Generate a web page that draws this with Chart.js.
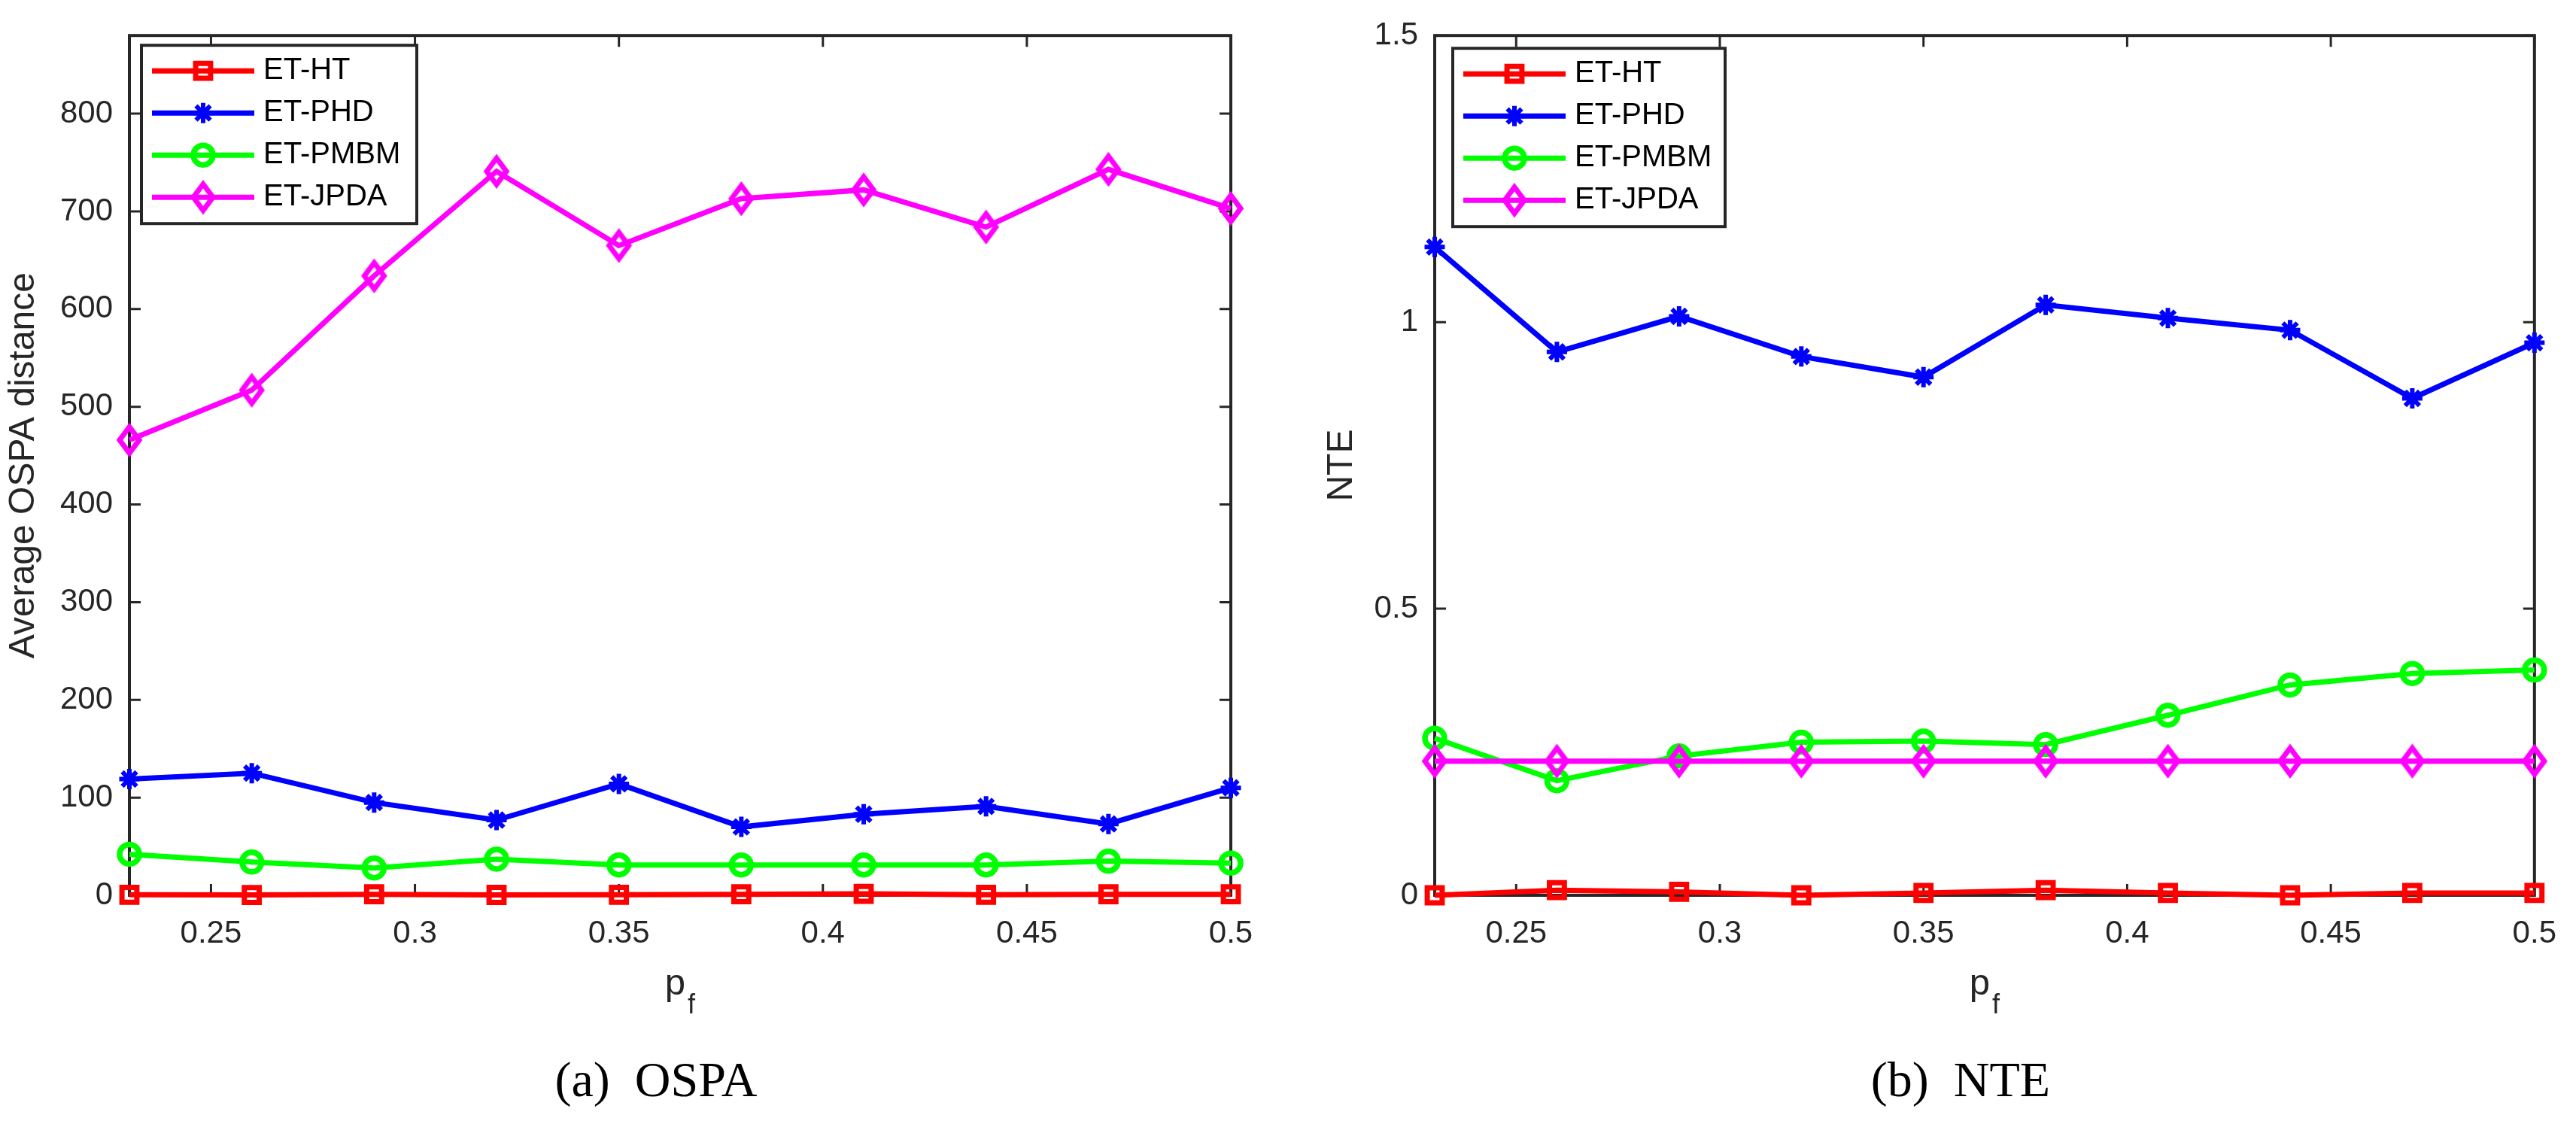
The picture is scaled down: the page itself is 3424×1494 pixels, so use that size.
<!DOCTYPE html>
<html>
<head>
<meta charset="utf-8">
<script src="https://cdn.jsdelivr.net/npm/chart.js@4.4.1/dist/chart.umd.min.js"></script>
<style>
html, body { margin: 0; padding: 0; background: #fff; }
#wrap { position: relative; width: 3424px; height: 1494px; }
.panel { position: absolute; top: 0; width: 1712px; height: 1494px; }
</style>
</head>
<body>
<div id="wrap">
  <div class="panel" style="left:0"><canvas id="ospa-chart" width="1712" height="1494"></canvas></div>
  <div class="panel" style="left:1712px"><canvas id="nte-chart" width="1712" height="1494"></canvas></div>
</div>
<script>
// x values (false alarm probability p_f)
const pf = [0.23, 0.26, 0.29, 0.32, 0.35, 0.38, 0.41, 0.44, 0.47, 0.5];
const xTicks = [0.25, 0.3, 0.35, 0.4, 0.45, 0.5];

// (a) average OSPA distance
const ospaHT   = [0.5, 0.3, 1, 0.4, 0.5, 1, 1.5, 0.5, 1, 1];
const ospaPHD  = [119, 125, 95, 77, 114, 70, 83, 91, 73, 110];
const ospaPMBM = [42, 34, 28, 37, 31, 31, 31, 31, 35, 33];
const ospaJPDA = [466, 517, 634, 741, 665, 713, 722, 684, 743, 703];
const ospaTicks = [0, 100, 200, 300, 400, 500, 600, 700, 800];

// (b) NTE
const nteHT   = [0, 0.009, 0.006, 0, 0.004, 0.009, 0.004, 0, 0.004, 0.004];
const ntePHD  = [1.131, 0.948, 1.010, 0.940, 0.904, 1.030, 1.007, 0.986, 0.867, 0.964];
const ntePMBM = [0.274, 0.200, 0.243, 0.267, 0.269, 0.263, 0.314, 0.367, 0.387, 0.393];
const nteJPDA = [0.234, 0.234, 0.234, 0.234, 0.234, 0.234, 0.234, 0.234, 0.234, 0.234];
const nteTicks = [0, 0.5, 1, 1.5];

const axisColor = '#262626';
const sans = "'Liberation Sans', Arial, Helvetica, sans-serif";
const serif = "'Liberation Serif', 'Times New Roman', serif";

Chart.defaults.font.family = sans;
Chart.defaults.color = axisColor;

// MATLAB style diamond is taller than it is wide
function makeDiamond(color) {
  const c = document.createElement('canvas');
  c.width = 44; c.height = 56;
  const g = c.getContext('2d');
  g.strokeStyle = color;
  g.lineWidth = 7;
  g.lineJoin = 'miter';
  g.beginPath();
  g.moveTo(22, 10.5);
  g.lineTo(35, 28);
  g.lineTo(22, 45.5);
  g.lineTo(9, 28);
  g.closePath();
  g.stroke();
  return c;
}
const diamond = makeDiamond('#ff00ff');

function series(label, values, color, style, radius, pointWidth, order) {
  return {
    label: label,
    data: pf.map((x, i) => ({ x: x, y: values[i] })),
    borderColor: color,
    backgroundColor: color,
    borderWidth: 7,
    pointStyle: style,
    pointRadius: radius,
    pointBorderWidth: pointWidth,
    pointBorderColor: color,
    pointBackgroundColor: 'rgba(0,0,0,0)',
    tension: 0,
    clip: false,
    order: order
  };
}

// box, inward ticks, legend, x label and caption
const matlabFrame = {
  id: 'matlabFrame',
  beforeDatasetsDraw(chart) {
    const { ctx, chartArea: a, scales: { x, y } } = chart;
    const tl = 15;
    ctx.save();
    ctx.strokeStyle = axisColor;
    ctx.lineWidth = 3;
    ctx.beginPath();
    x.ticks.forEach(t => {
      const px = x.getPixelForValue(t.value);
      ctx.moveTo(px, a.bottom); ctx.lineTo(px, a.bottom - tl);
      ctx.moveTo(px, a.top); ctx.lineTo(px, a.top + tl);
    });
    y.ticks.forEach(t => {
      const py = y.getPixelForValue(t.value);
      ctx.moveTo(a.left, py); ctx.lineTo(a.left + tl, py);
      ctx.moveTo(a.right, py); ctx.lineTo(a.right - tl, py);
    });
    ctx.stroke();
    ctx.lineWidth = 4;
    ctx.strokeRect(a.left, a.top, a.right - a.left, a.bottom - a.top);
    ctx.restore();
  },
  afterDraw(chart, args, opts) {
    const { ctx, chartArea: a } = chart;
    ctx.save();

    // legend
    const lx = a.left + opts.legendDx, ly = a.top + opts.legendDy, lw = opts.legendW, lh = 237;
    ctx.fillStyle = '#fff';
    ctx.fillRect(lx, ly, lw, lh);
    ctx.strokeStyle = axisColor;
    ctx.lineWidth = 4;
    ctx.strokeRect(lx, ly, lw, lh);
    chart.data.datasets.forEach((ds, i) => {
      const cy = ly + 34 + i * 56;
      ctx.strokeStyle = ds.borderColor;
      ctx.lineWidth = ds.borderWidth;
      ctx.beginPath();
      ctx.moveTo(lx + 14, cy);
      ctx.lineTo(lx + 150, cy);
      ctx.stroke();
      ctx.fillStyle = 'rgba(0,0,0,0)';
      ctx.lineWidth = ds.pointBorderWidth;
      Chart.helpers.drawPoint(ctx, {
        pointStyle: ds.pointStyle, radius: ds.pointRadius,
        rotation: 0, borderWidth: ds.pointBorderWidth
      }, lx + 82, cy);
      ctx.fillStyle = '#000';
      ctx.font = '40px ' + sans;
      ctx.textAlign = 'left';
      ctx.textBaseline = 'middle';
      ctx.fillText(ds.label, lx + 162, cy);
    });

    // x label p_f
    const cx = (a.left + a.right) / 2;
    ctx.fillStyle = axisColor;
    ctx.textBaseline = 'alphabetic';
    ctx.textAlign = 'left';
    ctx.font = '49px ' + sans;
    const pw = ctx.measureText('p').width;
    ctx.font = '36px ' + sans;
    const fw = ctx.measureText('f').width;
    const start = cx - (pw + fw + 3) / 2;
    ctx.font = '49px ' + sans;
    ctx.fillText('p', start, a.bottom + 132);
    ctx.font = '36px ' + sans;
    ctx.fillText('f', start + pw + 3, a.bottom + 157);

    // caption
    ctx.fillStyle = '#000';
    ctx.textAlign = 'center';
    ctx.font = '66px ' + serif;
    ctx.fillText(opts.caption, cx - 32, a.bottom + 267);
    ctx.restore();
  }
};

function makeChart(canvasId, sets, yMax, yTicks, yTitle, yWidth, padRight, titlePad, caption, legend) {
  return new Chart(document.getElementById(canvasId), {
    type: 'line',
    data: {
      datasets: [
        series('ET-HT', sets[0], '#ff0000', 'rect', 14, 7, 4),
        series('ET-PHD', sets[1], '#0000ff', 'star', 13.5, 6, 3),
        series('ET-PMBM', sets[2], '#00ff00', 'circle', 13, 7.5, 2),
        series('ET-JPDA', sets[3], '#ff00ff', diamond, 14, 7, 1)
      ]
    },
    options: {
      responsive: false,
      animation: false,
      devicePixelRatio: 1,
      layout: { padding: { top: 44, right: padRight, bottom: 0, left: 0 } },
      scales: {
        x: {
          type: 'linear',
          min: 0.23,
          max: 0.5,
          afterBuildTicks: scale => { scale.ticks = xTicks.map(v => ({ value: v })); },
          afterFit: scale => { scale.height = 304; },
          grid: { display: false, drawTicks: false },
          border: { display: false },
          ticks: {
            autoSkip: false,
            maxRotation: 0,
            padding: 26,
            color: axisColor,
            font: { size: 42 },
            callback: v => String(v)
          }
        },
        y: {
          type: 'linear',
          min: 0,
          max: yMax,
          afterBuildTicks: scale => { scale.ticks = yTicks.map(v => ({ value: v })); },
          afterFit: scale => { scale.width = yWidth; },
          grid: { display: false, drawTicks: false },
          border: { display: false },
          ticks: {
            padding: 22,
            color: axisColor,
            font: { size: 42 },
            callback: v => String(v)
          },
          title: {
            display: true,
            text: yTitle,
            color: axisColor,
            font: { size: 48 },
            padding: { top: titlePad, bottom: 0 }
          }
        }
      },
      plugins: {
        legend: { display: false },
        tooltip: { enabled: false },
        matlabFrame: {
          caption: caption,
          legendDx: legend[0], legendDy: legend[1], legendW: legend[2]
        }
      }
    },
    plugins: [matlabFrame]
  });
}

makeChart('ospa-chart', [ospaHT, ospaPHD, ospaPMBM, ospaJPDA], 880, ospaTicks,
  'Average OSPA distance', 172, 76, 3, '(a)  OSPA', [16, 13, 366]);
makeChart('nte-chart', [nteHT, ntePHD, ntePMBM, nteJPDA], 1.5, nteTicks,
  'NTE', 195, 51, 43, '(b)  NTE', [24, 17, 362]);
</script>
</body>
</html>
